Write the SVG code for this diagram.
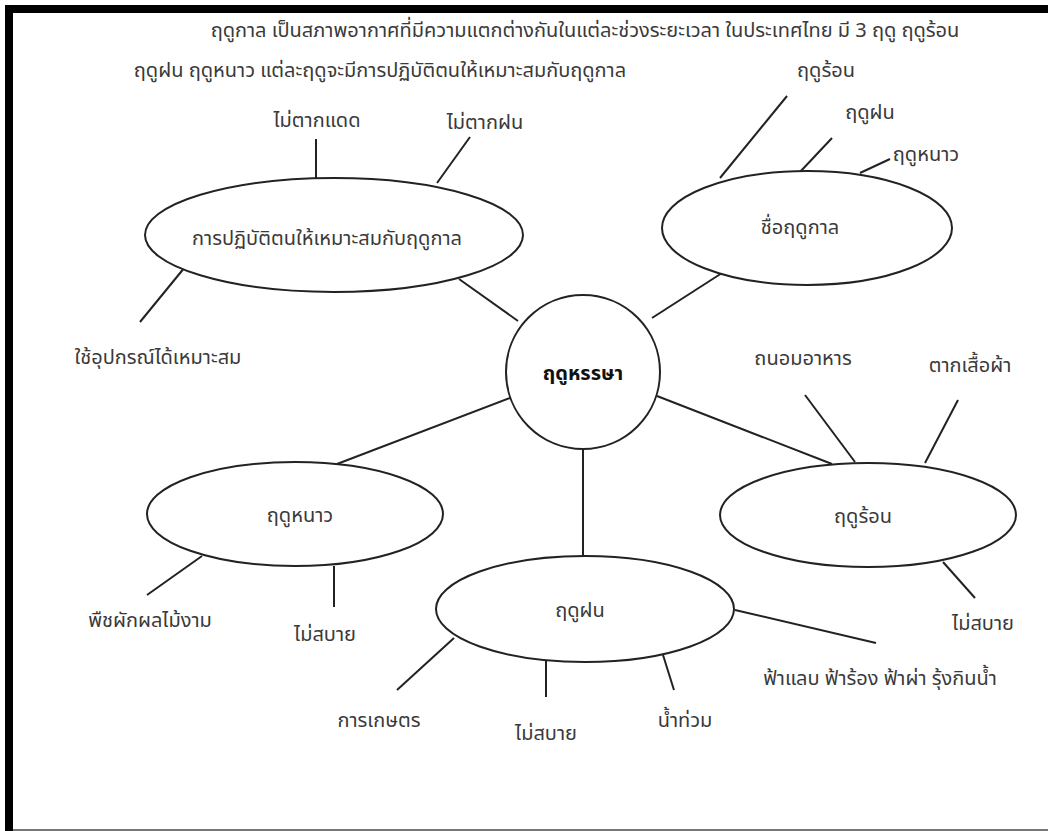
<svg xmlns="http://www.w3.org/2000/svg" width="1048" height="831" viewBox="0 0 1048 831">
<style>
.t{font-family:"Noto Sans Thai","Noto Sans","DejaVu Sans",sans-serif;font-size:20px;fill:#3a3a3a;text-anchor:middle}
.b{font-weight:bold;fill:#111}
.n{fill:#fff;stroke:#222;stroke-width:2}
.c line{stroke:#222;stroke-width:2}
</style>
<rect width="1048" height="831" fill="#fff"/>
<rect x="5" y="5" width="1043" height="8" fill="#000"/>
<rect x="5" y="5" width="8" height="826" fill="#000"/>
<line x1="13" y1="830" x2="1048" y2="830" stroke="#777" stroke-width="2"/>
<g id="intro">
<text class="t" x="585" y="37">ฤดูกาล เป็นสภาพอากาศที่มีความแตกต่างกันในแต่ละช่วงระยะเวลา ในประเทศไทย มี 3 ฤดู ฤดูร้อน</text>
<text class="t" x="380" y="77">ฤดูฝน ฤดูหนาว แต่ละฤดูจะมีการปฏิบัติตนให้เหมาะสมกับฤดูกาล</text>
</g>
<g id="connectors" class="c">
<line x1="459" y1="279" x2="518" y2="321"/>
<line x1="722" y1="273" x2="652" y2="318"/>
<line x1="832" y1="464" x2="657" y2="396"/>
<line x1="337" y1="464" x2="510" y2="398"/>
<line x1="583" y1="556" x2="583" y2="449"/>
<line x1="316" y1="139" x2="316" y2="178"/>
<line x1="470" y1="137" x2="437" y2="183"/>
<line x1="185" y1="267" x2="140" y2="322"/>
<line x1="787" y1="96" x2="720" y2="178"/>
<line x1="832" y1="138" x2="800" y2="172"/>
<line x1="890" y1="159" x2="860" y2="173"/>
<line x1="805" y1="395" x2="855" y2="462"/>
<line x1="958" y1="400" x2="925" y2="463"/>
<line x1="943" y1="562" x2="975" y2="598"/>
<line x1="202" y1="556" x2="147" y2="595"/>
<line x1="334" y1="566" x2="334" y2="607"/>
<line x1="454" y1="638" x2="397" y2="690"/>
<line x1="546" y1="660" x2="546" y2="697"/>
<line x1="663" y1="655" x2="674" y2="690"/>
<line x1="735" y1="610" x2="876" y2="643"/>
</g>
<g id="center">
<circle class="n" cx="583" cy="372" r="77"/>
<text class="t b" x="583" y="380">ฤดูหรรษา</text>
</g>
<g id="practice">
<ellipse class="n" cx="334" cy="235" rx="189" ry="57"/>
<text class="t" x="327" y="245">การปฏิบัติตนให้เหมาะสมกับฤดูกาล</text>
</g>
<g id="season-names">
<ellipse class="n" cx="807" cy="228" rx="145" ry="57"/>
<text class="t" x="800" y="234">ชื่อฤดูกาล</text>
</g>
<g id="hot">
<ellipse class="n" cx="868" cy="515" rx="148" ry="52"/>
<text class="t" x="863" y="523">ฤดูร้อน</text>
</g>
<g id="cold">
<ellipse class="n" cx="295" cy="514" rx="148" ry="52"/>
<text class="t" x="300" y="522">ฤดูหนาว</text>
</g>
<g id="rain">
<ellipse class="n" cx="585" cy="609" rx="149" ry="53"/>
<text class="t" x="580" y="617">ฤดูฝน</text>
</g>
<g id="leaf-labels">
<text class="t" x="317" y="127">ไม่ตากแดด</text>
<text class="t" x="485" y="129">ไม่ตากฝน</text>
<text class="t" x="158" y="364">ใช้อุปกรณ์ได้เหมาะสม</text>
<text class="t" x="826" y="77">ฤดูร้อน</text>
<text class="t" x="870" y="119">ฤดูฝน</text>
<text class="t" x="926" y="161">ฤดูหนาว</text>
<text class="t" x="803" y="365">ถนอมอาหาร</text>
<text class="t" x="970" y="372">ตากเสื้อผ้า</text>
<text class="t" x="983" y="630">ไม่สบาย</text>
<text class="t" x="150" y="627">พืชผักผลไม้งาม</text>
<text class="t" x="325" y="641">ไม่สบาย</text>
<text class="t" x="379" y="727">การเกษตร</text>
<text class="t" x="546" y="740">ไม่สบาย</text>
<text class="t" x="685" y="727">น้ำท่วม</text>
<text class="t" x="880" y="685">ฟ้าแลบ ฟ้าร้อง ฟ้าผ่า รุ้งกินน้ำ</text>
</g>
</svg>
